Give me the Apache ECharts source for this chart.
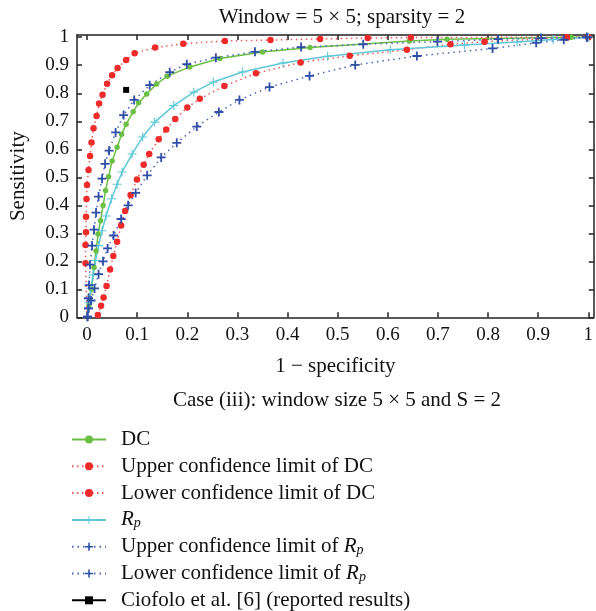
<!DOCTYPE html>
<html>
<head>
<meta charset="utf-8">
<script src="https://cdn.jsdelivr.net/npm/echarts@6/dist/echarts.min.js"></script>
<style>html,body{margin:0;padding:0;background:#fff}#c{width:596px;height:611px}</style>
</head>
<body>
<div id="c"></div>
<script>
const xTicks = [0,0.1,0.2,0.3,0.4,0.5,0.6,0.7,0.8,0.9,1];
const yTicks = [0,0.1,0.2,0.3,0.4,0.5,0.6,0.7,0.8,0.9,1];

const dcPoints = [[0,0],[0.004,0.045],[0.009,0.100],[0.014,0.178],[0.018,0.237],[0.022,0.297],[0.027,0.345],[0.032,0.399],[0.037,0.453],[0.043,0.502],[0.050,0.558],[0.060,0.607],[0.069,0.654],[0.078,0.689],[0.092,0.734],[0.103,0.766],[0.119,0.797],[0.139,0.833],[0.160,0.861],[0.205,0.894],[0.265,0.924],[0.350,0.947],[0.445,0.963],[0.643,0.987],[0.718,0.993],[0.966,1.0],[1,1]];
const dcUpperPoints = [[0,0],[-0.003,0.193],[-0.003,0.258],[-0.002,0.304],[-0.002,0.359],[-0.001,0.422],[0,0.472],[0.003,0.526],[0.006,0.576],[0.009,0.624],[0.013,0.675],[0.019,0.719],[0.024,0.763],[0.031,0.795],[0.040,0.834],[0.050,0.864],[0.061,0.890],[0.078,0.919],[0.095,0.943],[0.136,0.963],[0.192,0.977],[0.275,0.987],[0.366,0.990],[0.465,0.994],[0.560,0.997],[0.646,0.999],[0.957,1.0],[1,1]];
const dcLowerPoints = [[0.0216,0.008],[0.028,0.041],[0.033,0.071],[0.039,0.112],[0.046,0.171],[0.0525,0.219],[0.060,0.270],[0.068,0.328],[0.076,0.380],[0.087,0.437],[0.0996,0.492],[0.113,0.545],[0.124,0.583],[0.143,0.636],[0.158,0.671],[0.176,0.708],[0.200,0.749],[0.225,0.780],[0.274,0.826],[0.337,0.871],[0.426,0.910],[0.524,0.934],[0.638,0.955],[0.725,0.975],[0.793,0.984],[0.957,0.998],[1,1]];
const rpPoints = [[0,0],[0.004,0.052],[0.008,0.104],[0.012,0.151],[0.017,0.203],[0.023,0.256],[0.030,0.309],[0.038,0.362],[0.049,0.423],[0.060,0.475],[0.070,0.519],[0.090,0.583],[0.111,0.644],[0.135,0.697],[0.173,0.756],[0.213,0.804],[0.252,0.840],[0.310,0.876],[0.391,0.908],[0.480,0.932],[0.605,0.955],[0.753,0.9725],[0.858,0.983],[0.930,0.992],[1,1]];
const rpUpperPoints = [[0.001,0.002],[0.003,0.032],[0.003,0.068],[0.004,0.115],[0.006,0.188],[0.010,0.256],[0.014,0.313],[0.018,0.374],[0.023,0.431],[0.030,0.495],[0.036,0.548],[0.044,0.595],[0.057,0.660],[0.073,0.722],[0.094,0.776],[0.125,0.829],[0.165,0.875],[0.199,0.904],[0.257,0.927],[0.335,0.948],[0.427,0.965],[0.551,0.975],[0.699,0.984],[0.820,0.993],[0.906,0.997],[0.997,1.0]];
const rpLowerPoints = [[0.001,0.002],[0.003,0.032],[0.008,0.060],[0.015,0.103],[0.023,0.154],[0.032,0.200],[0.041,0.246],[0.053,0.292],[0.068,0.351],[0.082,0.400],[0.097,0.444],[0.120,0.507],[0.148,0.571],[0.179,0.623],[0.219,0.681],[0.263,0.733],[0.304,0.776],[0.364,0.822],[0.444,0.862],[0.535,0.901],[0.658,0.933],[0.809,0.960],[0.896,0.980],[0.951,0.991],[0.997,1.0]];
const ciofoloPoints = [[0.078,0.812]];

const seriesNames = ['DC','Upper confidence limit of DC','Lower confidence limit of DC','Rp','Upper confidence limit of Rp','Lower confidence limit of Rp','Ciofolo et al. [6] (reported results)'];

const FONT = "'Liberation Serif','DejaVu Serif',serif";
const GREEN = '#6cbf45', RED = '#ee2a2a', CYAN = '#5fc8d8', BLUE = '#2f4fa6';
const plusThin = 'path://M4.4,0H5.6V4.4H10V5.6H5.6V10H4.4V5.6H0V4.4H4.4Z';
const plusBold = 'path://M4,0H6V4H10V6H6V10H4V6H0V4H4Z';

function mk(name, pts, color, lineColor, lineType, width, symbol, size, hideFirst) {
  return {
    name: name, type: 'line', xAxisIndex: 0, yAxisIndex: 0,
    data: pts.map((p, i) => (hideFirst && i === 0) ? {value: p, symbol: 'none'} : p),
    symbol: symbol, symbolSize: size, showSymbol: true, showAllSymbol: true,
    itemStyle: {color: color, borderWidth: 0},
    lineStyle: {color: lineColor, width: width, type: lineType},
    emphasis: {disabled: true}, animation: false, clip: true
  };
}

const chart = echarts.init(document.getElementById('c'), null, {renderer: 'canvas'});
const tickFmt = v => String(Math.round(v * 10) / 10);
const axisLineStyle = {color: '#222', width: 1.5};

chart.setOption({
  animation: false,
  backgroundColor: '#fff',
  title: {
    text: 'Window = 5 × 5; sparsity = 2', left: 337, top: 2, textAlign: 'center',
    textStyle: {fontFamily: FONT, fontSize: 21, fontWeight: 'normal', color: '#111'}
  },
  grid: {left: 71, top: 35, right: 0, bottom: 293.7, containLabel: false},
  xAxis: [{
    type: 'value', min: -0.02, max: 1.011, position: 'bottom',
    name: '1 − specificity', nameLocation: 'middle', nameGap: 39,
    nameTextStyle: {fontFamily: FONT, fontSize: 21, color: '#111'},
    axisLine: {show: true, lineStyle: axisLineStyle},
    axisTick: {show: true, inside: true, length: 5, customValues: xTicks, lineStyle: axisLineStyle},
    axisLabel: {customValues: xTicks, formatter: tickFmt, margin: 8, fontFamily: FONT, fontSize: 19, color: '#111'},
    splitLine: {show: false}
  }, {
    type: 'value', min: -0.02, max: 1.011, position: 'top',
    axisLine: {show: true, onZero: false, lineStyle: axisLineStyle},
    axisTick: {show: true, inside: true, length: 5, customValues: xTicks, lineStyle: axisLineStyle},
    axisLabel: {show: false}, splitLine: {show: false}
  }],
  yAxis: [{
    type: 'value', min: 0, max: 1.008, position: 'left',
    name: 'Sensitivity', nameLocation: 'middle', nameGap: 48,
    nameTextStyle: {fontFamily: FONT, fontSize: 21, color: '#111'},
    axisLine: {show: true, onZero: false, lineStyle: axisLineStyle},
    axisTick: {show: true, inside: true, length: 5, customValues: yTicks, lineStyle: axisLineStyle},
    axisLabel: {customValues: yTicks, formatter: tickFmt, margin: 8, fontFamily: FONT, fontSize: 19, color: '#111'},
    splitLine: {show: false}
  }, {
    type: 'value', min: 0, max: 1.008, position: 'right',
    axisLine: {show: true, onZero: false, lineStyle: axisLineStyle},
    axisTick: {show: true, inside: true, length: 5, customValues: yTicks, lineStyle: axisLineStyle},
    axisLabel: {show: false}, splitLine: {show: false}
  }],
  legend: {
    orient: 'vertical', left: 71, top: 429, height: 240, padding: 0,
    itemWidth: 34, itemHeight: 10, itemGap: 5.8,
    data: seriesNames,
    textStyle: {fontFamily: FONT, fontSize: 21, color: '#111', padding: [0,0,0,10],
      rich: {
        i: {fontFamily: FONT, fontSize: 21, fontStyle: 'italic', color: '#111'},
        sub: {fontFamily: FONT, fontSize: 14, fontStyle: 'italic', color: '#111', padding: [7,0,0,0]}
      }
    },
    formatter: function (name) {
      if (name === 'Rp') return '{i|R}{sub|p}';
      if (name.endsWith(' Rp')) return name.slice(0, -2) + '{i|R}{sub|p}';
      return name;
    }
  },
  graphic: [{
    type: 'text', x: 337, y: 400, style: {
      text: 'Case (iii): window size 5 × 5 and S = 2', fontFamily: FONT, fontSize: 21, fill: '#111',
      align: 'center', verticalAlign: 'middle'
    }
  }],
  series: [
    mk(seriesNames[0], dcPoints, GREEN, GREEN, 'solid', 1.5, 'circle', 5.5, true),
    mk(seriesNames[1], dcUpperPoints, RED, '#f05a5a', [1.5, 3.5], 1.5, 'circle', 6.5, true),
    mk(seriesNames[2], dcLowerPoints, RED, '#f05a5a', [1.5, 3.5], 1.5, 'circle', 6.5, false),
    mk(seriesNames[3], rpPoints, CYAN, CYAN, 'solid', 1.5, plusThin, 9, true),
    mk(seriesNames[4], rpUpperPoints, BLUE, '#4a68b8', [1.5, 4], 1.5, plusBold, 9, false),
    mk(seriesNames[5], rpLowerPoints, BLUE, '#4a68b8', [1.5, 4], 1.5, plusBold, 9, false),
    mk(seriesNames[6], ciofoloPoints, '#000', '#000', 'solid', 1.5, 'rect', 6, false)
  ]
});
</script>
</body>
</html>
